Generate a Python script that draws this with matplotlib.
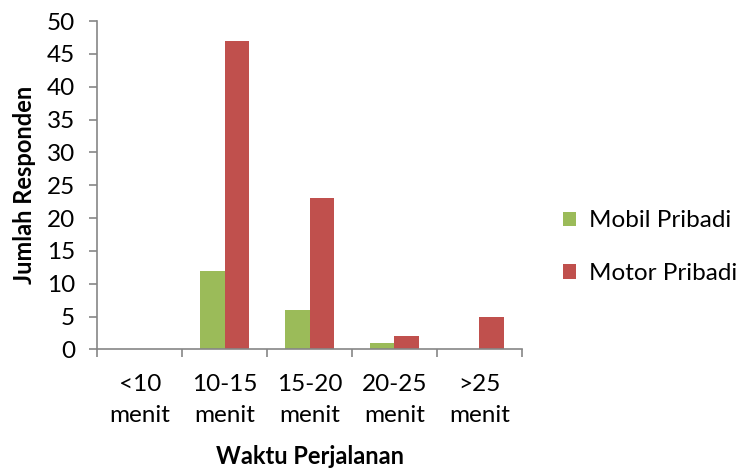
import matplotlib
matplotlib.use("Agg")
import matplotlib.pyplot as plt
import numpy as np

plt.rcParams['font.family'] = ['Lato', 'DejaVu Sans']

categories = ["<10\nmenit", "10-15\nmenit", "15-20\nmenit", "20-25\nmenit", ">25\nmenit"]
mobil = [0, 12, 6, 1, 0]
motor = [0, 47, 23, 2, 5]
series_names = ["Mobil Pribadi", "Motor Pribadi"]
colors = ["#9BBB59", "#C0504D"]

fig = plt.figure(figsize=(7.38, 4.70), dpi=100)
ax = fig.add_axes([0.1321, 0.2564, 0.5748, 0.6989])

x = np.arange(len(categories))
w = 0.287
ax.bar(x - w / 2, mobil, width=w, color=colors[0], label=series_names[0])
ax.bar(x + w / 2, motor, width=w, color=colors[1], label=series_names[1])

ax.set_xlim(-0.5, len(categories) - 0.5)
ax.set_ylim(0, 50)
ax.set_yticks(np.arange(0, 51, 5))

axis_col = "#868686"
for s in ["top", "right"]:
    ax.spines[s].set_visible(False)
for s in ["left", "bottom"]:
    ax.spines[s].set_color(axis_col)
    ax.spines[s].set_linewidth(1.2)

# category boundary ticks on x, labels at category centres
ax.set_xticks(np.arange(-0.5, len(categories)), minor=False)
ax.set_xticklabels([])
ax.set_xticks(x, minor=True)
ax.set_xticklabels(categories, minor=True, fontsize=17.5, linespacing=1.55)
ax.tick_params(axis="x", which="minor", length=0, pad=18)
ax.tick_params(axis="x", which="major", length=6, width=1.2, color=axis_col, direction="out")
ax.tick_params(axis="y", length=6, width=1.2, color=axis_col, labelsize=17.5, pad=10)

ax.set_ylabel("Jumlah Responden", fontsize=17, fontweight="bold", labelpad=8)
ax.set_xlabel("Waktu Perjalanan", fontsize=17, fontweight="bold", labelpad=14)

ax.legend(loc="center left", bbox_to_anchor=(0.763, 0.474), bbox_transform=fig.transFigure,
          frameon=False, fontsize=17.5, handlelength=0.55, handleheight=0.55,
          handletextpad=0.5, labelspacing=1.3, borderaxespad=0, borderpad=0)

fig.savefig("out.png", dpi=100)
